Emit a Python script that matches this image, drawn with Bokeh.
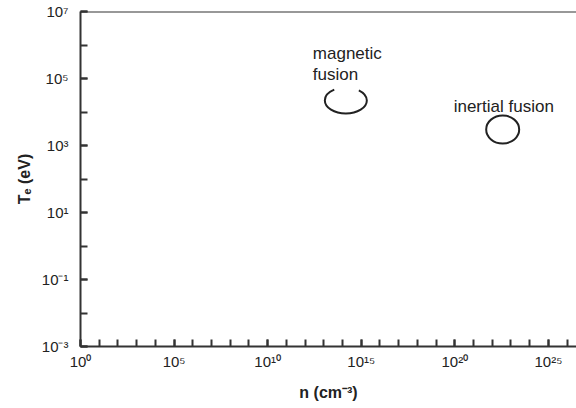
from bokeh.plotting import figure
from bokeh.models import FixedTicker, Label, Span, Range1d, CustomJSTickFormatter
from bokeh.embed import file_html
from bokeh.resources import INLINE

# ---- data ----
regimes = ["magnetic fusion", "inertial fusion"]
density = [1.5e14, 3.6e22]        # n (cm^-3)
temperature = [2.2e4, 3.0e3]      # Te (eV)
x_major = [1e0, 1e5, 1e10, 1e15, 1e20, 1e25]
x_minor = [10.0 ** k for k in range(0, 27)]
y_major = [1e-3, 1e-1, 1e1, 1e3, 1e5, 1e7]
y_minor = [10.0 ** k for k in range(-3, 8)]

AX = "#333333"
FONT = "Liberation Sans"

p = figure(width=576, height=408, x_axis_type="log", y_axis_type="log",
           x_range=Range1d(1, 10 ** 26.5), y_range=Range1d(1e-3, 1e7),
           output_backend="svg", toolbar_location=None,
           min_border_left=80, min_border_right=0, min_border_top=11,
           min_border_bottom=62)
p.outline_line_color = None
p.xgrid.visible = False
p.ygrid.visible = False
p.background_fill_color = "white"
p.border_fill_color = "white"

fmt = CustomJSTickFormatter(code="""
const sup = {'0':'\u2070','1':'\u00b9','2':'\u00b2','3':'\u00b3','4':'\u2074',
             '5':'\u2075','6':'\u2076','7':'\u2077','8':'\u2078','9':'\u2079','-':'\u207b'};
const e = Math.round(Math.log10(tick));
return '10' + String(e).split('').map(c => sup[c]).join('');
""")

p.xaxis.ticker = FixedTicker(ticks=x_major, minor_ticks=x_minor)
p.yaxis.ticker = FixedTicker(ticks=y_major, minor_ticks=y_minor)
for ax in (p.xaxis, p.yaxis):
    ax.formatter = fmt
    ax.axis_line_color = AX
    ax.axis_line_width = 2
    ax.major_tick_line_color = AX
    ax.minor_tick_line_color = AX
    ax.major_tick_line_width = 2
    ax.minor_tick_line_width = 2
    ax.major_tick_in = 7
    ax.major_tick_out = 0
    ax.minor_tick_in = 7
    ax.minor_tick_out = 0
    ax.major_label_text_font = FONT
    ax.major_label_text_font_size = "15px"
    ax.major_label_text_color = "#222222"
    ax.axis_label_text_font = FONT
    ax.axis_label_text_font_size = "16px"
    ax.axis_label_text_font_style = "bold"
    ax.axis_label_text_color = "#222222"

p.xaxis.major_label_standoff = 6
p.yaxis.major_label_standoff = 12
p.xaxis.axis_label = "n (cm\u207b\u00b3)"
p.yaxis.axis_label = "T\u2091 (eV)"
p.xaxis.axis_label_standoff = 11
p.yaxis.axis_label_standoff = 6

# top frame line
p.add_layout(Span(location=1e7, dimension="width", line_color=AX, line_width=2))

# regime ellipses (magnetic one is open at the top)
p.ellipse(x=[density[0]], y=[temperature[0]], width=42, height=26,
          width_units="screen", height_units="screen",
          fill_color=None, line_color="#222222", line_width=2,
          line_dash="69 25 40")
p.ellipse(x=[density[1]], y=[temperature[1]], width=33, height=28,
          width_units="screen", height_units="screen",
          fill_color=None, line_color="#222222", line_width=2)

# labels
lab_kw = dict(text_font=FONT, text_font_size="17px", text_color="#222222",
              text_baseline="alphabetic", text_align="left")
p.add_layout(Label(x=density[0], y=temperature[0], x_offset=-33, y_offset=47,
                   text="magnetic", **lab_kw))
p.add_layout(Label(x=density[0], y=temperature[0], x_offset=-33, y_offset=26,
                   text="fusion", **lab_kw))
p.add_layout(Label(x=density[1], y=temperature[1], x_offset=-49, y_offset=23,
                   text="inertial fusion", **lab_kw))

open("out.html", "w").write(file_html(p, INLINE))
